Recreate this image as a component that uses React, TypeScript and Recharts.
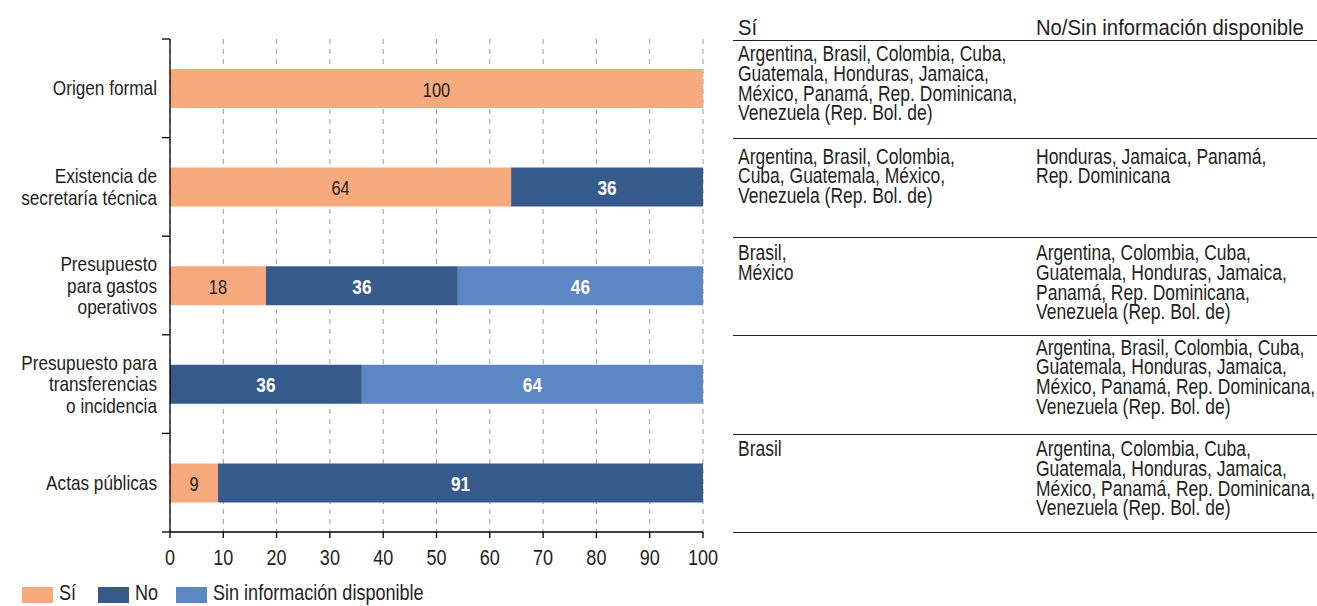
import { BarChart, Bar, XAxis, YAxis, CartesianGrid, LabelList } from 'recharts';

// condensed look: Liberation Sans squeezed horizontally
const FONT = '"Liberation Sans", Arial, sans-serif';
const SQ = 0.82;
const INK = '#231f20';

const CATEGORIES = [
  ['Origen formal'],
  ['Existencia de', 'secretaría técnica'],
  ['Presupuesto', 'para gastos', 'operativos'],
  ['Presupuesto para', 'transferencias', 'o incidencia'],
  ['Actas públicas'],
];
const SI = [100, 64, 18, 0, 9];
const NO = [0, 36, 36, 36, 91];
const SIN_INFO = [0, 0, 46, 64, 0];
const X_TICKS = [0, 10, 20, 30, 40, 50, 60, 70, 80, 90, 100];

const SERIES = [
  { key: 'si', name: 'Sí', color: '#f7aa7d', text: INK, bold: false },
  { key: 'no', name: 'No', color: '#375a8c', text: '#ffffff', bold: true },
  { key: 'sin', name: 'Sin información disponible', color: '#5c86c4', text: '#ffffff', bold: true },
];

const TABLE_HEAD = ['Sí', 'No/Sin información disponible'];
const TABLE_SI = [
  ['Argentina, Brasil, Colombia, Cuba,', 'Guatemala, Honduras, Jamaica,', 'México, Panamá, Rep. Dominicana,', 'Venezuela (Rep. Bol. de)'],
  ['Argentina, Brasil, Colombia,', 'Cuba, Guatemala, México,', 'Venezuela (Rep. Bol. de)'],
  ['Brasil,', 'México'],
  [],
  ['Brasil'],
];
const TABLE_NO = [
  [],
  ['Honduras, Jamaica, Panamá,', 'Rep. Dominicana'],
  ['Argentina, Colombia, Cuba,', 'Guatemala, Honduras, Jamaica,', 'Panamá, Rep. Dominicana,', 'Venezuela (Rep. Bol. de)'],
  ['Argentina, Brasil, Colombia, Cuba,', 'Guatemala, Honduras, Jamaica,', 'México, Panamá, Rep. Dominicana,', 'Venezuela (Rep. Bol. de)'],
  ['Argentina, Colombia, Cuba,', 'Guatemala, Honduras, Jamaica,', 'México, Panamá, Rep. Dominicana,', 'Venezuela (Rep. Bol. de)'],
];

const data = CATEGORIES.map((lines, i) => ({
  name: lines.join(' '),
  lines,
  si: SI[i],
  no: NO[i],
  sin: SIN_INFO[i],
}));

// plot box
const TOP = 39;
const BOTTOM = 532;
const BAND = (BOTTOM - TOP) / CATEGORIES.length;
const ROW_PAD = [3, 7, 5, 1, 4];
const LEGEND_X = [22, 98, 176];

function CategoryTick(props: any) {
  const { x, y, index } = props;
  const lines = data[index]?.lines ?? [];
  const axisX = x + 13;
  const lh = 21.5;
  const start = -((lines.length - 1) * lh) / 2;
  return (
    <g>
      <line x1={axisX - 8} x2={axisX} y1={y - BAND / 2} y2={y - BAND / 2} stroke="#000" strokeWidth={1.3} />
      {index === data.length - 1 && (
        <line x1={axisX - 8} x2={axisX} y1={y + BAND / 2} y2={y + BAND / 2} stroke="#000" strokeWidth={1.3} />
      )}
      <g transform={`translate(${x},${y}) scale(${SQ},1)`}>
        {lines.map((l: string, k: number) => (
          <text key={k} x={0} y={start + k * lh} textAnchor="end" dominantBaseline="central" fill={INK} fontSize={21} fontFamily={FONT}>
            {l}
          </text>
        ))}
      </g>
    </g>
  );
}

function ValueTick(props: any) {
  const { x, y, payload } = props;
  return (
    <g transform={`translate(${x},${y}) scale(${SQ},1)`}>
      <text x={0} y={0} dy="0.71em" textAnchor="middle" fill={INK} fontSize={22} fontFamily={FONT}>
        {payload.value}
      </text>
    </g>
  );
}

function makeBarLabel(color: string, bold: boolean) {
  return (p: any) => {
    const { x, y, width, height, value } = p;
    if (!value) return null;
    return (
      <g transform={`translate(${x + width / 2},${y + height / 2}) scale(${SQ},1)`}>
        <text x={0} y={1} textAnchor="middle" dominantBaseline="central" fill={color} fontSize={bold ? 21 : 20} fontWeight={bold ? 'bold' : 'normal'} fontFamily={FONT}>
          {value}
        </text>
      </g>
    );
  };
}

const sq = (s = SQ): any => ({ display: 'block', whiteSpace: 'nowrap', transform: `scaleX(${s})`, transformOrigin: 'left' });

export default function App() {
  return (
    <div style={{ position: 'relative', width: 1317, height: 606, fontFamily: FONT, color: INK, background: '#fff', overflow: 'hidden' }}>
      <style>{'body{margin:0}'}</style>
      <BarChart
        width={720}
        height={606}
        data={data}
        layout="vertical"
        margin={{ top: TOP, right: 17, left: 0, bottom: 606 - BOTTOM - 40 }}
        barSize={39}
      >
        <CartesianGrid horizontal={false} stroke="#9a9a9a" strokeDasharray="5 5" />
        <XAxis
          type="number"
          domain={[0, 100]}
          ticks={X_TICKS}
          height={40}
          axisLine={{ stroke: '#000', strokeWidth: 1.3 }}
          tickLine={{ stroke: '#000', strokeWidth: 1.3 }}
          tickSize={6}
          tickMargin={11}
          tick={<ValueTick />}
        />
        <YAxis
          type="category"
          dataKey="name"
          width={170}
          axisLine={{ stroke: '#000', strokeWidth: 1.3 }}
          tickLine={false}
          tickSize={0}
          tickMargin={13}
          interval={0}
          tick={<CategoryTick />}
        />
        {SERIES.map((s) => (
          <Bar key={s.key} dataKey={s.key} name={s.name} stackId="a" fill={s.color} isAnimationActive={false}>
            <LabelList dataKey={s.key} content={makeBarLabel(s.text, s.bold)} />
          </Bar>
        ))}
      </BarChart>

      {/* legend */}
      {SERIES.map((s, i) => (
        <div key={s.key} style={{ position: 'absolute', left: LEGEND_X[i], top: 583, height: 20, display: 'flex', alignItems: 'center', fontSize: 22, lineHeight: '20px' }}>
          <span style={{ display: 'inline-block', width: 31, height: 16, background: s.color, marginRight: 6, marginTop: 4 }} />
          <span style={sq()}>{s.name}</span>
        </div>
      ))}

      {/* table */}
      <div style={{ position: 'absolute', left: 733, top: 0, width: 584, fontSize: 22, lineHeight: '19.8px' }}>
        <div style={{ position: 'absolute', top: 0, left: 0, width: 584, height: 40, borderBottom: '1.3px solid #222' }}>
          <div style={{ position: 'absolute', left: 5, top: 18, ...sq(0.92) }}>{TABLE_HEAD[0]}</div>
          <div style={{ position: 'absolute', left: 303, top: 18, ...sq(0.92) }}>{TABLE_HEAD[1]}</div>
        </div>
        {TABLE_SI.map((si, i) => (
          <div
            key={i}
            style={{
              position: 'absolute',
              left: 0,
              top: 41 + i * 98.5,
              width: 584,
              height: 97,
              borderBottom: '1.3px solid #222',
            }}
          >
            <div style={{ position: 'absolute', left: 5, top: ROW_PAD[i], width: 280 }}>
              {si.map((l, k) => <div key={k} style={sq(0.795)}>{l}</div>)}
            </div>
            <div style={{ position: 'absolute', left: 303, top: ROW_PAD[i], width: 280 }}>
              {TABLE_NO[i].map((l, k) => <div key={k} style={sq(0.795)}>{l}</div>)}
            </div>
          </div>
        ))}
      </div>
    </div>
  );
}
